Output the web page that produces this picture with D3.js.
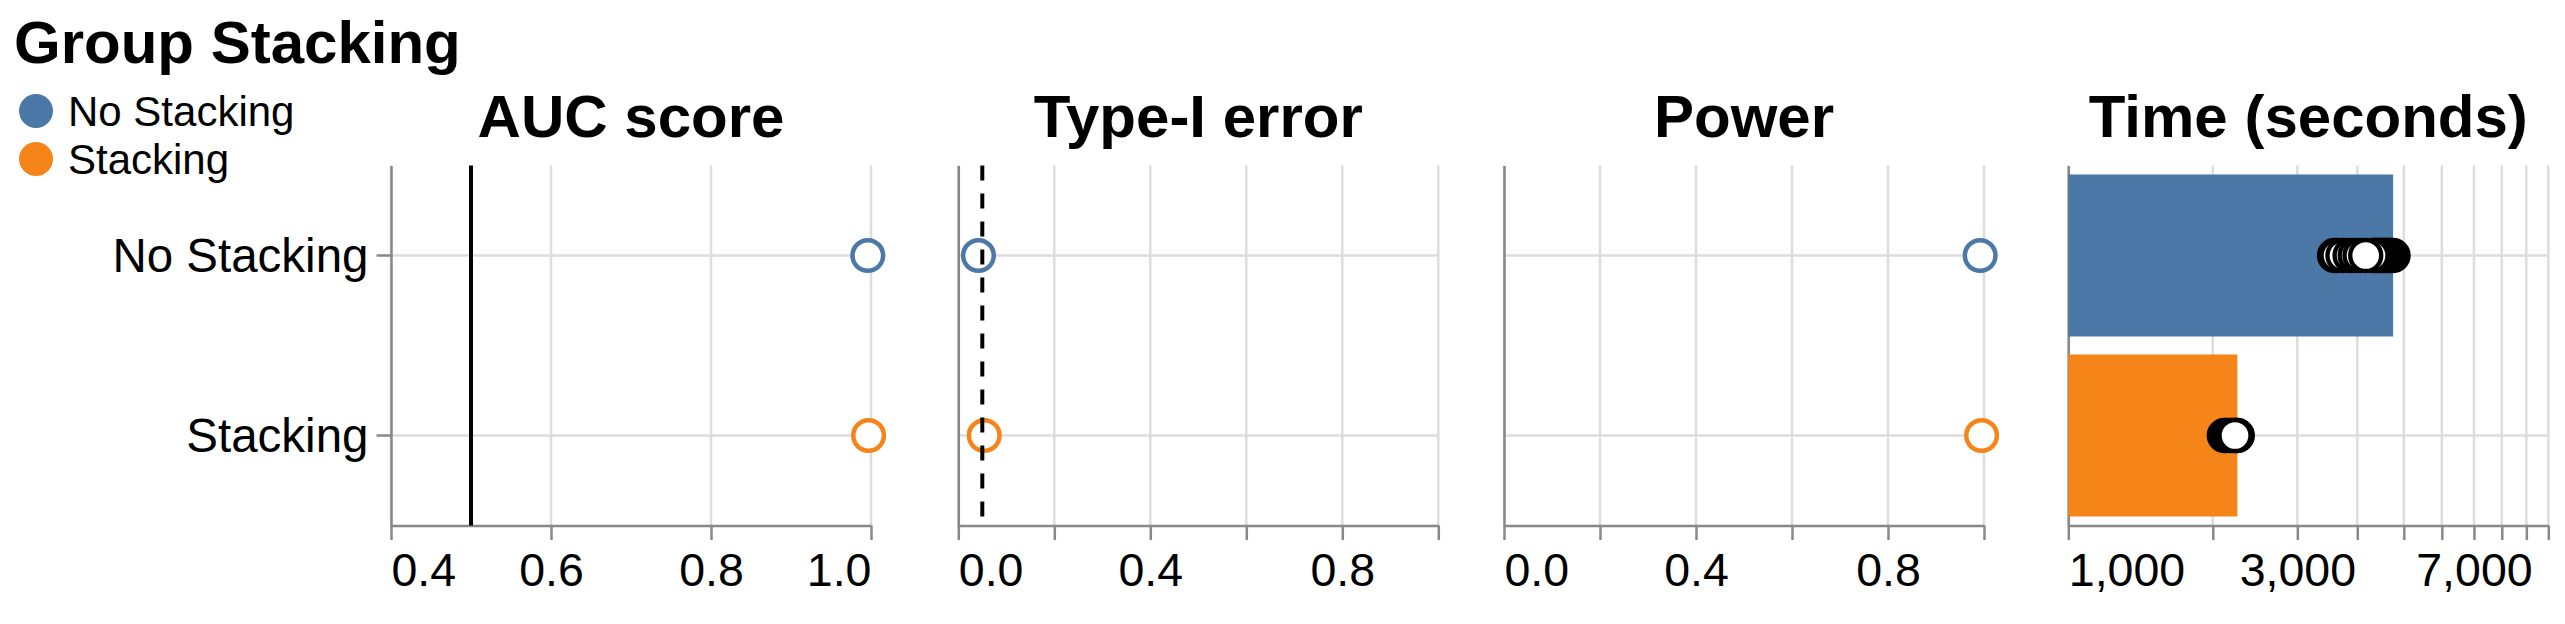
<!DOCTYPE html>
<html>
<head>
<meta charset="utf-8">
<script src="https://d3js.org/d3.v7.min.js"></script>
<style>
  body { margin: 0; background: #fff; }
  text { font-family: "Liberation Sans", Arial, Helvetica, sans-serif; }
</style>
</head>
<body>
<svg id="chart" width="2565" height="624"></svg>
<script>
// data
const categories = ["No Stacking", "Stacking"]
const colors = ["#4c78a8", "#f58518"]

const aucScore = [0.996, 0.997]
const aucBaseline = 0.5
const typeIError = [0.042, 0.054]
const alphaLevel = 0.05
const power = [0.992, 0.995]

const timeBar = [4750, 2250]
// individual runs, in the order they are drawn
const timeRunsNoStacking = [4748, 4690, 4634, 4590, 4547, 4505, 4461, 4418, 4375, 4333, 4293, 3586, 3630, 3735, 3864, 3960, 4053, 4165]
const timeRunsStacking = [2249, 2242, 2114, 2141, 2173, 2200, 2225]

const panelTitles = ["AUC score", "Type-I error", "Power", "Time (seconds)"]
const aucTicks = [0.4, 0.6, 0.8, 1.0]
const unitTicks = [0, 0.2, 0.4, 0.6, 0.8, 1.0]
const unitLabels = [0, 0.4, 0.8]
const timeTicks = [1000, 2000, 3000, 4000, 5000, 6000, 7000, 8000, 9000, 10000]
const timeLabels = [1000, 3000, 7000]

// layout
const plotTop = 165.5, plotH = 360, plotW = 480
const panelLeft = [391, 958.3, 1504, 2068.3]
const gridColor = "#ddd", axisColor = "#888"
const ptR = 15.3, ptW = 4.5

const svg = d3.select("#chart")

const y = d3.scaleBand().domain(categories)
  .range([plotTop, plotTop + plotH]).paddingInner(0.1).paddingOuter(0.05)
const yc = (c) => y(c) + y.bandwidth() / 2

const fmt1 = d3.format(".1f")
const panels = [
  { x: d3.scaleLinear().domain([0.4, 1.0]), ticks: aucTicks, labels: aucTicks, fmt: fmt1 },
  { x: d3.scaleLinear().domain([0, 1]), ticks: unitTicks, labels: unitLabels, fmt: fmt1 },
  { x: d3.scaleLinear().domain([0, 1]), ticks: unitTicks, labels: unitLabels, fmt: fmt1 },
  { x: d3.scaleLog().domain([1000, 10000]), ticks: timeTicks, labels: timeLabels, fmt: d3.format(",") }
]

// legend
svg.append("text").attr("x", 14).attr("y", 63)
  .attr("font-size", 60).attr("font-weight", "bold").text("Group Stacking")
categories.forEach((c, i) => {
  svg.append("circle").attr("cx", 36).attr("cy", 111 + i * 48).attr("r", 17).attr("fill", colors[i])
  svg.append("text").attr("x", 68).attr("y", 111 + i * 48 + 15)
    .attr("font-size", 42).text(c)
})

panels.forEach((p, pi) => {
  const left = panelLeft[pi]
  p.x.range([left, left + plotW])
  const x = p.x
  const g = svg.append("g")

  // title
  g.append("text").attr("x", left + plotW / 2).attr("y", 137)
    .attr("text-anchor", "middle").attr("font-size", 60).attr("font-weight", "bold")
    .text(panelTitles[pi])

  // grid
  g.selectAll(".vgrid").data(p.ticks).join("line")
    .attr("x1", d => x(d)).attr("x2", d => x(d))
    .attr("y1", plotTop).attr("y2", plotTop + plotH)
    .attr("stroke", gridColor).attr("stroke-width", 2.5)
  g.selectAll(".hgrid").data(categories).join("line")
    .attr("x1", left).attr("x2", left + plotW)
    .attr("y1", d => yc(d)).attr("y2", d => yc(d))
    .attr("stroke", gridColor).attr("stroke-width", 2.5)

  // x axis
  const xAxis = d3.axisBottom(x).tickValues(p.ticks).tickSize(14.5).tickSizeOuter(0)
    .tickPadding(13.3).tickFormat(d => p.labels.includes(d) ? p.fmt(d) : "")
  const xa = g.append("g").attr("transform", `translate(0,${plotTop + plotH})`).call(xAxis)
  xa.select(".domain").attr("stroke", axisColor).attr("stroke-width", 2.5)
  xa.selectAll(".tick line").attr("stroke", axisColor).attr("stroke-width", 2.5)
  xa.selectAll(".tick text").attr("font-size", 46.5).attr("fill", "#000")
    .attr("font-family", null)
    .attr("text-anchor", d => d === p.ticks[0] ? "start" : (d === p.ticks[p.ticks.length - 1] ? "end" : "middle"))

  // y axis domain (labels only on the first panel)
  const yAxis = d3.axisLeft(y).tickSize(pi === 0 ? 14.5 : 0).tickSizeOuter(0).tickPadding(8)
  const ya = g.append("g").attr("transform", `translate(${left},0)`).call(yAxis)
  ya.select(".domain").attr("stroke", axisColor).attr("stroke-width", 2.5)
  ya.selectAll(".tick line").attr("stroke", axisColor).attr("stroke-width", 2.5)
  ya.selectAll(".tick text").attr("font-size", 47.5).attr("fill", "#000")
    .attr("font-family", null).attr("dy", "0.35em")
  if (pi !== 0) ya.selectAll(".tick text").remove()
})

// AUC score
const [pAuc, pErr, pPow, pTime] = panels
svg.append("g").selectAll("circle").data(categories).join("circle")
  .attr("cx", (d, i) => pAuc.x(aucScore[i])).attr("cy", d => yc(d)).attr("r", ptR)
  .attr("fill", "#fff").attr("stroke", (d, i) => colors[i]).attr("stroke-width", ptW)
svg.append("line")
  .attr("x1", pAuc.x(aucBaseline)).attr("x2", pAuc.x(aucBaseline))
  .attr("y1", plotTop).attr("y2", plotTop + plotH)
  .attr("stroke", "#000").attr("stroke-width", 4)

// Type-I error
svg.append("g").selectAll("circle").data(categories).join("circle")
  .attr("cx", (d, i) => pErr.x(typeIError[i])).attr("cy", d => yc(d)).attr("r", ptR)
  .attr("fill", "#fff").attr("stroke", (d, i) => colors[i]).attr("stroke-width", ptW)
svg.append("line")
  .attr("x1", pErr.x(alphaLevel)).attr("x2", pErr.x(alphaLevel))
  .attr("y1", plotTop).attr("y2", plotTop + plotH)
  .attr("stroke", "#000").attr("stroke-width", 4).attr("stroke-dasharray", "15,13")

// Power
svg.append("g").selectAll("circle").data(categories).join("circle")
  .attr("cx", (d, i) => pPow.x(power[i])).attr("cy", d => yc(d)).attr("r", ptR)
  .attr("fill", "#fff").attr("stroke", (d, i) => colors[i]).attr("stroke-width", ptW)

// Time: bars + individual runs
svg.append("g").selectAll("rect").data(categories).join("rect")
  .attr("x", pTime.x(1000)).attr("y", d => y(d))
  .attr("width", (d, i) => pTime.x(timeBar[i]) - pTime.x(1000))
  .attr("height", y.bandwidth())
  .attr("fill", (d, i) => colors[i])
const runs = [
  ...timeRunsNoStacking.map(v => ({ cat: categories[0], v })),
  ...timeRunsStacking.map(v => ({ cat: categories[1], v }))
]
svg.append("g").selectAll("circle").data(runs).join("circle")
  .attr("cx", d => pTime.x(d.v)).attr("cy", d => yc(d.cat)).attr("r", 15.5)
  .attr("fill", "#fff").attr("stroke", "#000").attr("stroke-width", 4.4)
</script>
</body>
</html>
